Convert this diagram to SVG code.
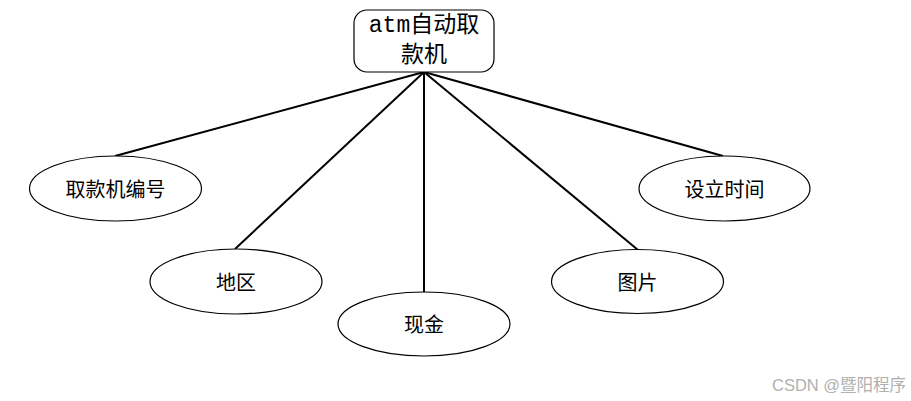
<svg xmlns="http://www.w3.org/2000/svg" width="911" height="401" viewBox="0 0 911 401">
<style>
.ell{fill:#fff;stroke:#000;stroke-width:1.2}
.box{fill:#fff;stroke:#000;stroke-width:1.2}
.lbl{font-family:"Noto Sans CJK SC","Liberation Serif",sans-serif;font-size:20px;fill:#000;text-anchor:middle;dominant-baseline:central}
.ttl{font-family:"Liberation Mono","Noto Sans CJK SC",monospace;font-size:23px;fill:#000;text-anchor:middle;dominant-baseline:central}
.con{stroke:#000;stroke-width:2;fill:none}
.wm{font-family:"Liberation Sans","Noto Sans CJK SC",sans-serif;font-size:16.5px;fill:#b0b0b0}
</style>
<rect width="911" height="401" fill="#fff"/>
<g id="connectors">
<line class="con" x1="424" y1="72" x2="115" y2="156"/>
<line class="con" x1="424" y1="72" x2="235" y2="249"/>
<line class="con" x1="424" y1="72" x2="424" y2="292"/>
<line class="con" x1="424" y1="72" x2="638" y2="250"/>
<line class="con" x1="424" y1="72" x2="723" y2="156"/>
</g>
<g id="atm">
<rect class="box" x="354" y="10" width="140" height="62" rx="13" ry="13"/>
<text class="ttl" x="424" y="26">atm自动取</text>
<text class="ttl" x="424" y="56">款机</text>
</g>
<g id="bianhao">
<ellipse class="ell" cx="115.5" cy="188.5" rx="86" ry="32.5"/>
<text class="lbl" x="115.5" y="188">取款机编号</text>
</g>
<g id="diqu">
<ellipse class="ell" cx="236" cy="281.5" rx="86" ry="32.5"/>
<text class="lbl" x="236" y="281">地区</text>
</g>
<g id="xianjin">
<ellipse class="ell" cx="424" cy="324" rx="86" ry="32"/>
<text class="lbl" x="424" y="323">现金</text>
</g>
<g id="tupian">
<ellipse class="ell" cx="637.5" cy="281.5" rx="86" ry="32"/>
<text class="lbl" x="637.5" y="281">图片</text>
</g>
<g id="sheli">
<ellipse class="ell" cx="724.5" cy="188.5" rx="85.5" ry="32.5"/>
<text class="lbl" x="724.5" y="188">设立时间</text>
</g>
<text class="wm" x="772" y="391">CSDN @暨阳程序</text>
</svg>
